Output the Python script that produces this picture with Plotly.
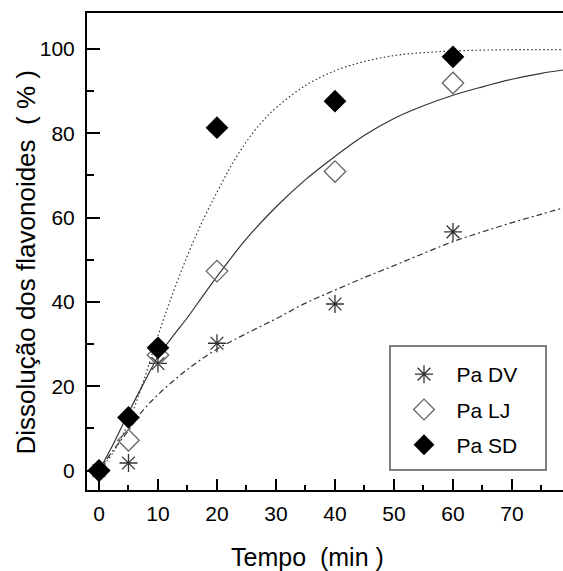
import plotly.graph_objects as go

# ---- measured data ----
time_pts = [0, 5, 10, 20, 40, 60]
pa_dv = [0, 1.8, 25.4, 30.2, 39.5, 56.6]
pa_lj = [0, 7.2, 27.4, 47.3, 70.9, 91.9]
pa_sd = [0, 12.6, 29.1, 81.3, 87.6, 98.1]

# ---- fitted curves ----
dv_fit_x = [0, 2.5, 5, 7, 10, 15, 20, 25, 30, 35, 40, 45, 50, 55, 60, 65, 70, 75, 78.7]
dv_fit_y = [0, 5, 9.5, 13.5, 18, 24, 28.8, 32.5, 36, 39.7, 42.8, 45.8, 48.6, 51.5, 54.3, 56.6, 58.8, 60.8, 62.3]

lj_fit_x = [0, 2.5, 5, 7.5, 10, 12.5, 15, 17.5, 20, 25, 30, 35, 40, 45, 50, 55, 60, 65, 70, 75, 78.7]
lj_fit_y = [0, 6.5, 13.7, 20.5, 27, 31.8, 36.3, 41.2, 46, 55, 62.5, 69, 74.5, 79.5, 83.5, 86.5, 89, 91, 92.8, 94.2, 95]

sd_fit_x = [0, 2.5, 5, 7.5, 10, 12.5, 15, 17.5, 20, 22.5, 25, 27.5, 30, 35, 40, 45, 50, 55, 60, 65, 70, 78.7]
sd_fit_y = [0, 4.5, 11.5, 21, 32, 42, 51, 59, 66, 72.5, 78, 82.5, 86, 91.3, 94.8, 97, 98.4, 99.1, 99.5, 99.7, 99.8, 99.8]

x_ticks = [0, 10, 20, 30, 40, 50, 60, 70]
y_ticks = [0, 20, 40, 60, 80, 100]

x_title = "Tempo  (min )"
y_title = "Dissolução dos flavonoides  ( % )"

FONT = "Liberation Sans, Arial, sans-serif"

W, H = 563, 571
ML, MT = 87, 13
PLOT_W = W - ML            # 476
PLOT_B = 490               # plot bottom in px
MB = H - PLOT_B            # 81
PLOT_H = PLOT_B - MT       # 477

def px(xr):   # window x -> paper
    return (xr - ML) / PLOT_W

def py(yr):   # window y -> paper
    return (PLOT_B - yr) / PLOT_H

fig = go.Figure()

# curves (not in legend)
fig.add_trace(go.Scatter(x=dv_fit_x, y=dv_fit_y, mode="lines", showlegend=False,
                         line=dict(color="#333333", width=1.2, dash="6px,3px,2px,3px", shape="spline"),
                         hoverinfo="skip"))
fig.add_trace(go.Scatter(x=lj_fit_x, y=lj_fit_y, mode="lines", showlegend=False,
                         line=dict(color="#333333", width=1.2, shape="spline"),
                         hoverinfo="skip"))
fig.add_trace(go.Scatter(x=sd_fit_x, y=sd_fit_y, mode="lines", showlegend=False,
                         line=dict(color="#333333", width=1.2, dash="1.5px,2.5px", shape="spline"),
                         hoverinfo="skip"))

# data points
fig.add_trace(go.Scatter(x=time_pts, y=pa_dv, mode="markers", name="Pa DV", legendgroup="a",
                         marker=dict(symbol="asterisk-open", size=15, color="#333333",
                                     line=dict(color="#333333", width=1.3))))
fig.add_trace(go.Scatter(x=time_pts, y=pa_lj, mode="markers", name="Pa LJ", legendgroup="b",
                         marker=dict(symbol="diamond-open", size=16.5, color="#666666",
                                     line=dict(color="#666666", width=1.3))))
fig.add_trace(go.Scatter(x=time_pts, y=pa_sd, mode="markers", name="Pa SD", legendgroup="c",
                         marker=dict(symbol="diamond", size=17.5, color="black",
                                     line=dict(color="black", width=0))))

fig.update_layout(
    width=W, height=H,
    margin=dict(l=ML, r=0, t=MT, b=MB, pad=0, autoexpand=False),
    plot_bgcolor="white", paper_bgcolor="white",
    font=dict(family=FONT, size=21, color="black"),
    showlegend=True,
    legend=dict(x=px(391.5), y=py(354), xanchor="left", yanchor="top",
                bgcolor="rgba(0,0,0,0)", borderwidth=0,
                font=dict(family=FONT, size=21, color="black"),
                itemwidth=55, tracegroupgap=5, traceorder="grouped"),
    xaxis=dict(range=[-2.03, -2.03 + PLOT_W / 5.9], tickvals=x_ticks, ticktext=[str(v) for v in x_ticks],
               ticks="inside", ticklen=11, tickwidth=2, tickcolor="black",
               showline=True, linecolor="black", linewidth=2, mirror=True,
               showgrid=False, zeroline=False, automargin=False,
               minor=dict(ticks="inside", ticklen=5, tickwidth=2, tickcolor="black",
                          tickvals=[5, 15, 25, 35, 45, 55, 65, 75], showgrid=False),
               tickfont=dict(size=21), ticklabelstandoff=4),
    yaxis=dict(range=[-4.6, 108.5], tickvals=y_ticks, ticktext=[str(v) for v in y_ticks],
               ticks="inside", ticklen=13, tickwidth=2, tickcolor="black",
               showline=True, linecolor="black", linewidth=2, mirror=False,
               showgrid=False, zeroline=False, automargin=False,
               minor=dict(ticks="inside", ticklen=7, tickwidth=2, tickcolor="black",
                          tickvals=[10, 30, 50, 70, 90], showgrid=False),
               tickfont=dict(size=21), ticklabelstandoff=6),
)

# legend frame
fig.add_shape(type="rect", xref="paper", yref="paper",
              x0=px(390), x1=px(546), y0=py(470), y1=py(346),
              line=dict(color="#555555", width=1.5), fillcolor="white", layer="above")

# axis titles
fig.add_annotation(text=x_title, xref="paper", yref="paper",
                   x=px(307.5), y=py(557),
                   xanchor="center", yanchor="middle", showarrow=False,
                   font=dict(family=FONT, size=25, color="black"))
fig.add_annotation(text=y_title, xref="paper", yref="paper", textangle=-90,
                   x=px(25), y=py(262.5),
                   xanchor="center", yanchor="middle", showarrow=False,
                   font=dict(family=FONT, size=26, color="black"))

fig.write_html("out.html", config={"displayModeBar": False},
               post_script="document.body.style.margin='0px';")
